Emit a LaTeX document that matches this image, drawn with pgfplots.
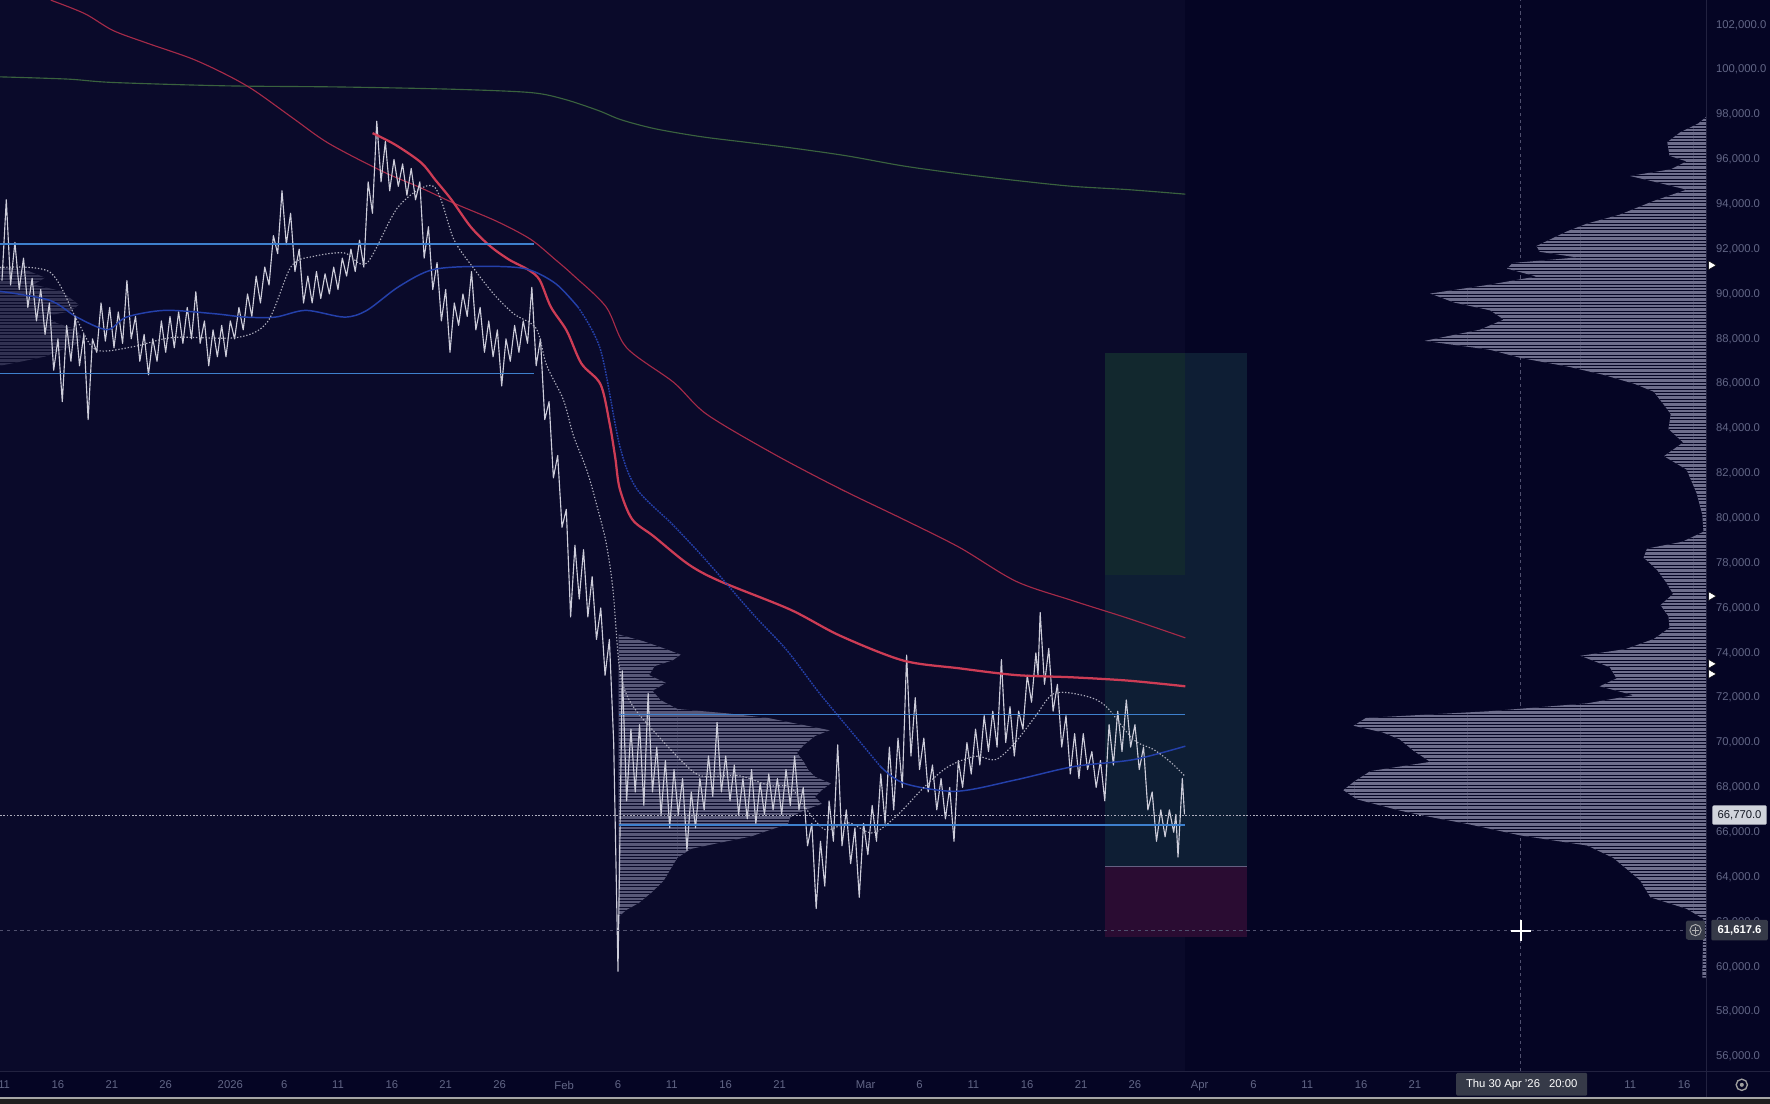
\documentclass[border=0pt]{standalone}
\usepackage{fontspec}
\setmainfont{Liberation Sans}
\usepackage{pgfplots}
\usepackage{pgfplotstable}
\pgfplotsset{compat=1.18}
\usetikzlibrary{patterns}
\definecolor{bgmain}{RGB}{10,10,42}
\definecolor{bgright}{RGB}{5,5,36}
\definecolor{sep}{RGB}{34,34,64}
\definecolor{ticklab}{RGB}{98,102,134}
\definecolor{candle}{RGB}{205,205,218}
\definecolor{prof}{RGB}{110,110,140}
\definecolor{profmid}{RGB}{88,88,120}
\definecolor{hblue}{RGB}{62,128,205}
\definecolor{mablue}{RGB}{36,64,170}
\definecolor{redthick}{RGB}{205,60,85}
\definecolor{redthin}{RGB}{165,42,72}
\definecolor{magreen}{RGB}{58,98,62}
\definecolor{mawhite}{RGB}{175,175,190}
\definecolor{tgt}{RGB}{14,30,52}
\definecolor{tgtgreen}{RGB}{18,40,46}
\definecolor{stp}{RGB}{42,12,50}
\definecolor{entry}{RGB}{100,96,130}
\definecolor{labgray}{RGB}{54,58,72}
\definecolor{lablight}{RGB}{209,212,220}
\definecolor{labdark}{RGB}{19,23,34}
\definecolor{cross}{RGB}{80,80,110}

\pgfplotstableread{
d p
-21.2 90.6
-20.8 94.2
-20.4 90.4
-20.0 92.3
-19.6 90.2
-19.2 91.6
-18.8 89.4
-18.4 90.7
-18.0 88.8
-17.6 90.2
-17.2 88.2
-16.8 89.6
-16.4 86.6
-16.0 88.0
-15.6 85.2
-15.2 88.6
-14.8 87.0
-14.4 89.0
-14.0 86.8
-13.6 88.2
-13.2 84.4
-12.8 88.0
-12.4 87.4
-12.0 89.6
-11.6 87.9
-11.2 89.4
-10.8 87.6
-10.4 89.2
-10.0 87.8
-9.6 90.6
-9.2 88.0
-8.8 89.0
-8.4 87.0
-8.0 88.2
-7.6 86.4
-7.2 88.0
-6.8 87.0
-6.4 88.8
-6.0 87.4
-5.6 89.0
-5.2 87.6
-4.8 89.2
-4.4 87.8
-4.0 89.4
-3.6 88.0
-3.2 90.1
-2.8 87.8
-2.4 88.8
-2.0 86.8
-1.6 88.4
-1.2 87.2
-0.8 88.6
-0.4 87.2
0.0 88.8
0.4 88.0
0.8 89.4
1.2 88.4
1.6 90.0
2.0 89.0
2.4 90.8
2.8 89.6
3.2 91.2
3.6 90.4
4.0 92.6
4.4 91.8
4.8 94.6
5.2 92.2
5.6 93.6
6.0 91.0
6.4 92.0
6.8 89.6
7.2 90.8
7.6 89.6
8.0 91.0
8.4 89.8
8.8 90.9
9.2 90.0
9.6 91.2
10.0 90.2
10.4 91.6
10.8 90.8
11.2 92.0
11.6 91.0
12.0 92.4
12.4 91.2
12.8 95.0
13.2 93.6
13.6 97.7
14.0 95.0
14.4 96.8
14.8 94.6
15.2 96.0
15.6 94.8
16.0 95.8
16.4 94.4
16.8 95.6
17.2 94.2
17.6 95.0
18.0 91.6
18.4 93.0
18.8 90.2
19.2 91.4
19.6 88.8
20.0 90.2
20.4 87.4
20.8 89.6
21.2 88.6
21.6 90.0
22.0 89.0
22.4 91.0
22.8 88.4
23.2 89.4
23.6 87.4
24.0 88.8
24.4 87.2
24.8 88.4
25.2 85.9
25.6 88.0
26.0 87.0
26.4 88.6
26.8 87.4
27.2 88.8
27.6 87.8
28.0 90.3
28.4 86.8
28.8 88.0
29.2 84.4
29.6 85.2
30.0 81.8
30.4 82.8
30.8 79.6
31.2 80.4
31.6 75.6
32.0 78.8
32.4 76.4
32.8 78.6
33.2 75.6
33.6 77.4
34.0 74.6
34.4 76.0
34.8 73.0
35.2 74.6
35.6 70.0
36.0 59.8
36.4 73.2
36.8 67.4
37.2 70.6
37.6 67.8
38.0 70.8
38.4 67.2
38.8 72.2
39.2 67.8
39.6 69.8
40.0 66.8
40.4 69.2
40.8 66.2
41.2 68.8
41.6 66.8
42.0 68.4
42.4 65.2
42.8 67.8
43.2 66.2
43.6 68.4
44.0 67.0
44.4 69.4
44.8 67.6
45.2 70.9
45.6 67.8
46.0 69.4
46.4 67.4
46.8 69.0
47.2 66.8
47.6 68.4
48.0 66.6
48.4 68.8
48.8 66.4
49.2 68.2
49.6 66.8
50.0 68.6
50.4 67.0
50.8 68.4
51.2 66.8
51.6 68.8
52.0 67.2
52.4 69.4
52.8 67.0
53.2 68.0
53.6 65.4
54.0 66.4
54.4 62.6
54.8 65.6
55.2 63.6
55.6 67.4
56.0 65.6
56.4 69.9
56.8 65.4
57.2 67.0
57.6 64.6
58.0 66.2
58.4 63.1
58.8 66.4
59.2 65.0
59.6 67.2
60.0 65.6
60.4 68.6
60.8 66.4
61.2 69.8
61.6 67.0
62.0 70.2
62.4 68.0
62.8 73.9
63.2 69.4
63.6 72.0
64.0 68.8
64.4 70.2
64.8 67.8
65.2 69.0
65.6 67.0
66.0 68.4
66.4 66.6
66.8 68.0
67.2 65.6
67.6 69.2
68.0 68.0
68.4 70.0
68.8 68.6
69.2 70.6
69.6 69.0
70.0 71.2
70.4 69.6
70.8 71.4
71.2 69.8
71.6 73.7
72.0 70.0
72.4 71.6
72.8 69.4
73.2 71.4
73.6 70.6
74.0 73.0
74.4 71.8
74.8 74.0
75.0 73.0
75.2 75.8
75.6 72.6
76.0 74.2
76.4 71.4
76.8 72.6
77.2 69.8
77.6 71.2
78.0 68.6
78.4 70.4
78.8 68.4
79.2 70.4
79.6 68.8
80.0 69.6
80.4 68.0
80.8 69.2
81.2 67.4
81.6 70.8
82.0 69.0
82.4 71.4
82.8 69.6
83.2 71.9
83.6 69.8
84.0 70.8
84.4 68.8
84.8 69.8
85.2 67.0
85.6 67.8
86.0 65.6
86.4 67.0
86.8 65.8
87.2 67.0
87.6 66.0
87.8 66.8
88.0 64.9
88.4 68.4
88.6 66.8
}\candles

\pgfplotstableread{
d p
-21.38 99.68
-15.09 99.58
-10.90 99.43
-0.42 99.28
10.06 99.23
20.54 99.13
27.88 98.98
31.03 98.68
34.17 98.18
36.27 97.77
39.41 97.37
43.61 97.02
47.80 96.77
51.99 96.52
57.23 96.16
62.47 95.71
67.71 95.36
72.96 95.06
78.20 94.80
83.44 94.65
88.68 94.45
}\magreentab

\pgfplotstableread{
d p
-16.67 103.10
-13.52 102.50
-10.90 101.75
-7.76 101.19
-3.57 100.49
-0.42 99.79
2.20 99.08
5.87 97.82
9.12 96.72
14.15 95.46
17.61 94.75
20.75 94.05
24.74 93.24
27.88 92.44
30.19 91.53
31.86 90.83
34.90 89.42
36.79 87.61
41.19 86.05
44.23 84.64
50.42 82.88
56.60 81.32
62.47 79.96
67.71 78.70
72.96 77.19
78.20 76.33
83.44 75.53
88.68 74.67
}\redthintab

\pgfplotstableread{
d p
13.21 97.17
15.30 96.66
17.71 95.86
19.08 95.06
20.54 94.20
22.33 92.99
24.11 92.14
25.89 91.53
27.67 91.08
28.72 90.63
29.77 89.42
31.24 88.36
32.60 86.90
34.38 85.97
35.22 84.23
35.74 82.72
36.16 81.32
37.31 79.96
39.31 79.20
42.56 77.94
45.49 77.19
51.99 75.93
56.60 74.77
62.47 73.66
67.71 73.31
72.96 73.01
78.20 72.91
83.44 72.76
88.68 72.51
}\redthicktab

\pgfplotstableread{
d p
-21.38 90.12
-16.77 89.72
-14.26 88.97
-11.43 88.41
-9.64 88.97
-6.08 89.27
-1.47 89.12
1.36 88.97
4.19 88.97
7.02 89.27
10.59 88.97
12.68 89.27
15.62 90.32
18.76 91.08
23.06 91.23
27.36 91.13
30.19 90.47
32.28 89.42
}\blueA

\pgfplotstableread{
d p
32.28 89.42
34.38 87.51
36.16 83.23
37.73 81.32
41.09 79.71
44.23 78.10
48.53 75.73
51.67 74.12
54.71 72.20
58.28 70.14
60.38 68.93
}\blueB

\pgfplotstableread{
d p
60.38 68.93
62.58 68.18
67.40 67.83
72.86 68.33
78.30 68.93
83.85 69.24
88.68 69.84
}\blueC

\pgfplotstableread{
d p
-21.38 91.18
-16.77 90.98
-14.26 88.86
-12.47 87.51
-8.91 87.66
-5.35 88.06
0.63 88.06
3.46 88.76
5.66 91.23
7.76 91.68
10.59 91.83
12.68 91.38
15.62 93.90
18.87 94.80
20.75 92.44
22.54 91.18
24.42 90.02
26.31 89.12
28.41 88.46
29.35 86.85
30.92 85.29
31.87 83.68
33.12 82.12
34.07 80.51
34.90 78.90
35.53 76.83
36.16 73.26
37.21 71.75
39.83 70.24
42.77 68.78
44.23 68.48
47.17 68.53
50.10 68.08
51.99 68.03
53.35 67.12
55.24 66.12
57.44 66.42
59.64 65.97
61.84 66.72
64.46 68.03
66.67 68.93
69.18 69.39
71.07 69.24
72.86 69.99
74.73 71.15
76.53 72.20
79.55 72.06
81.34 71.60
83.85 70.14
85.74 69.69
87.40 69.09
88.68 68.48
}\whitetab

\begin{document}
\begin{tikzpicture}
\fill[bgright] (0pt,0pt) rectangle (1568pt,978pt);
\begin{axis}[
  at={(0pt,29pt)}, anchor=south west,
  scale only axis, width=1512pt, height=949pt,
  xmin=-21.384, xmax=137.1, ymin=55.347, ymax=103.107,
  clip=false,
  axis line style={draw=none},
  major tick length=0pt,
  tick style={draw=none},
  xtick={-21,-16,-11,-6,0,5,10,15,20,25,31,36,41,46,51,59,64,69,74,79,84,90,95,100,105,110,130,135},
  xticklabels={11,16,21,26,2026,6,11,16,21,26,Feb,6,11,16,21,Mar,6,11,16,21,26,Apr,6,11,16,21,11,16},
  ytick={56,58,...,102},
  yticklabels={{56,000.0},{58,000.0},{60,000.0},{62,000.0},{64,000.0},{66,000.0},{68,000.0},{70,000.0},{72,000.0},{74,000.0},{76,000.0},{78,000.0},{80,000.0},{82,000.0},{84,000.0},{86,000.0},{88,000.0},{90,000.0},{92,000.0},{94,000.0},{96,000.0},{98,000.0},{100,000.0},{102,000.0}},
  ytick pos=right, yticklabel pos=right,
  xticklabel style={font=\fontsize{10}{12}\selectfont, text=ticklab, inner sep=0pt, anchor=north, yshift=-8.5pt},
  yticklabel style={font=\fontsize{10}{12}\selectfont, text=ticklab, inner sep=0pt, anchor=west, xshift=8pt},
  every axis plot/.append style={line join=round},
]
% plot background (history part)
\fill[bgmain] (axis cs:-21.384,55.347) rectangle (axis cs:88.68,103.107);

% position tool
\addplot[fill=tgt, draw=none] coordinates {(81.24,64.48) (94.39,64.48) (94.39,87.36) (81.24,87.36)} -- cycle;
\addplot[fill=tgtgreen, draw=none] coordinates {(81.24,77.49) (88.68,77.49) (88.68,87.36) (81.24,87.36)} -- cycle;
\addplot[fill=stp, draw=none] coordinates {(81.24,61.33) (94.39,61.33) (94.39,64.48) (81.24,64.48)} -- cycle;
\addplot[entry, line width=1pt] coordinates {(81.24,64.48) (94.39,64.48)};

% faint left profile
\addplot[fill=profmid, fill opacity=0.5, draw=none, postaction={pattern=horizontal lines, pattern color=bgmain}] coordinates {
(-21.38,91.23) (-18.76,91.03) (-17.19,90.73) (-18.24,90.42) (-15.62,90.12) (-14.88,89.82) (-14.05,89.52) (-14.88,89.22) (-17.19,89.02) (-16.14,88.71) (-14.26,88.41) (-13.84,88.11) (-14.05,87.81) (-15.62,87.51) (-17.19,87.21) (-19.29,87.00) (-21.38,86.80)} -- cycle;

% middle volume profile
\addplot[fill=profmid, draw=none, postaction={pattern=horizontal lines, pattern color=bgmain}] coordinates {
(36.06,74.82) (38.36,74.52) (40.46,74.17) (41.82,73.92) (41.09,73.67) (39.41,73.41) (38.89,73.01) (40.46,72.66) (39.20,72.31) (39.94,71.90) (41.51,71.50) (46.22,71.30) (49.89,71.10) (51.99,70.90) (55.66,70.55) (54.29,70.29) (53.25,69.89) (52.62,69.54) (53.25,69.14) (53.67,68.78) (54.29,68.48) (55.76,68.18) (54.92,67.88) (54.29,67.58) (54.92,67.27) (53.25,66.97) (51.99,66.67) (51.78,66.37) (49.89,66.07) (48.32,65.81) (45.70,65.56) (42.77,65.26) (41.51,64.86) (40.88,64.36) (40.25,63.85) (39.20,63.35) (37.94,62.85) (36.79,62.54) (36.06,62.24)} -- cycle;

% moving averages behind
\addplot[magreen, line width=1pt, smooth] table[x=d,y=p] {\magreentab};
\addplot[redthin, line width=1pt, smooth] table[x=d,y=p] {\redthintab};

% candles
\addplot[candle, line width=1pt] table[x=d,y=p] {\candles};

% moving averages
\addplot[redthick, line width=2pt, smooth] table[x=d,y=p] {\redthicktab};
\addplot[mablue, line width=1.3pt, smooth] table[x=d,y=p] {\blueA};
\addplot[mablue, line width=1.3pt, dash pattern=on 1.5pt off 1pt, smooth] table[x=d,y=p] {\blueB};
\addplot[mablue, line width=1.3pt, smooth] table[x=d,y=p] {\blueC};
\addplot[mawhite, line width=1pt, dash pattern=on 1.2pt off 1.6pt, smooth] table[x=d,y=p] {\whitetab};

% horizontal levels
\addplot[hblue, line width=1.5pt] coordinates {(-21.384,92.24) (28.2,92.24)};
\addplot[hblue, line width=1.5pt] coordinates {(-21.384,86.45) (28.2,86.45)};
\addplot[hblue, line width=1.5pt] coordinates {(36.06,71.25) (88.68,71.25)};
\addplot[hblue, line width=1.5pt] coordinates {(36.06,66.32) (88.68,66.32)};

% last price line and crosshair
\addplot[mawhite, line width=0.8pt, dash pattern=on 1.5pt off 1.5pt] coordinates {(-21.384,66.77) (137.1,66.77)};
\addplot[cross, line width=0.8pt, dash pattern=on 3pt off 3pt] coordinates {(-21.384,61.6176) (135.1,61.6176)};
\addplot[cross, line width=0.8pt, dash pattern=on 3pt off 3pt] coordinates {(119.83,55.347) (119.83,103.107)};

% right volume profile
\addplot[fill=prof, draw=none, postaction={pattern=horizontal lines, pattern color=bgright}] coordinates {
(137.10,97.92) (136.3,97.6) (134.6,97.2) (133.43,96.77) (133.64,96.16) (135.22,95.91) (133.75,95.56) (129.98,95.26) (132.70,94.95) (135.22,94.65) (132.18,94.15) (129.03,93.54) (125.99,93.14) (124.11,92.79) (121.28,92.14) (121.59,91.88) (125.05,91.63) (119.07,91.38) (118.55,91.13) (121.28,90.78) (116.98,90.42) (111.42,90.02) (113.63,89.62) (116.98,89.27) (118.24,88.86) (116.04,88.41) (110.90,87.91) (116.98,87.51) (119.81,87.15) (124.32,86.75) (127.46,86.40) (130.40,85.99) (132.18,85.64) (133.22,84.99) (133.75,84.64) (133.54,83.98) (134.90,83.38) (133.12,82.77) (135.22,82.17) (136.16,81.11) (136.68,80.16) (136.79,79.40) (134.80,78.95) (131.55,78.65) (131.23,78.25) (132.49,77.69) (133.33,77.14) (133.96,76.63) (132.80,76.13) (133.54,75.63) (133.64,75.12) (132.18,74.62) (129.56,74.17) (125.37,73.87) (128.09,73.36) (128.72,72.86) (127.15,72.51) (130.29,72.11) (125.99,71.75) (116.98,71.40) (105.45,71.10) (104.30,70.75) (107.02,70.45) (108.59,70.14) (109.85,69.64) (111.42,69.14) (105.87,68.73) (104.40,68.28) (103.35,67.88) (104.61,67.47) (108.59,66.97) (110.48,66.77) (114.89,66.37) (119.81,65.86) (125.99,65.41) (128.41,64.86) (129.66,64.36) (130.92,63.85) (131.86,63.10) (135.22,62.59) (136.79,62.14) (136.68,59.52) (137.10,59.52)} -- cycle;

% markers at the price scale
\addplot[only marks, mark=triangle*, mark size=4.5pt, mark options={rotate=-90, fill=white, draw=none}] coordinates {(137.5,91.28) (137.5,76.53) (137.5,73.51) (137.5,73.06)};

% cursor
\draw[white, line width=1.6pt] ([xshift=-9pt]axis cs:119.83,61.6176) -- ([xshift=9pt]axis cs:119.83,61.6176);
\draw[white, line width=1.6pt] ([yshift=-9pt]axis cs:119.83,61.6176) -- ([yshift=9pt]axis cs:119.83,61.6176);
\end{axis}

% separators
\draw[sep, line width=1pt] (0pt,29pt) -- (1568pt,29pt);
\draw[sep, line width=1pt] (1512pt,5pt) -- (1512pt,978pt);
% bottom edge of screenshot
\fill[black!88] (0pt,0pt) rectangle (1568pt,4.5pt);
\draw[gray!70, line width=1.5pt] (0pt,5.2pt) -- (1568pt,5.2pt);

% price labels
\node[fill=lablight, text=labdark, font=\fontsize{10}{12}\selectfont, inner sep=0pt, minimum width=48pt, minimum height=17pt, rounded corners=1pt] at (1541pt,256pt) {66,770.0};
\node[fill=labgray, text=white, font=\bfseries\fontsize{10}{12}\selectfont, inner sep=0pt, minimum width=50pt, minimum height=18pt, rounded corners=1pt] at (1541pt,154pt) {61,617.6};
\node[fill=labgray, inner sep=0pt, minimum width=17pt, minimum height=17pt, rounded corners=2pt] at (1502pt,154pt) {};
\draw[gray!60, line width=0.8pt] (1502pt,154pt) circle (5pt);
\draw[gray!60, line width=0.8pt] (1499pt,154pt) -- (1505pt,154pt) (1502pt,151pt) -- (1502pt,157pt);
% time label
\node[fill=labgray, text=white, font=\fontsize{10}{12}\selectfont, inner sep=0pt, minimum width=116pt, minimum height=20pt, rounded corners=1pt] at (1348pt,17.5pt) {Thu 30 Apr '26\hspace{8pt}20:00};
% settings icon
\draw[gray!75, line width=1.2pt] (1543pt,17pt) circle (5pt);
\fill[gray!75] (1543pt,17pt) circle (1.8pt);

\pgfresetboundingbox
\useasboundingbox (0pt,0pt) rectangle (1568pt,978pt);
\end{tikzpicture}
\end{document}
